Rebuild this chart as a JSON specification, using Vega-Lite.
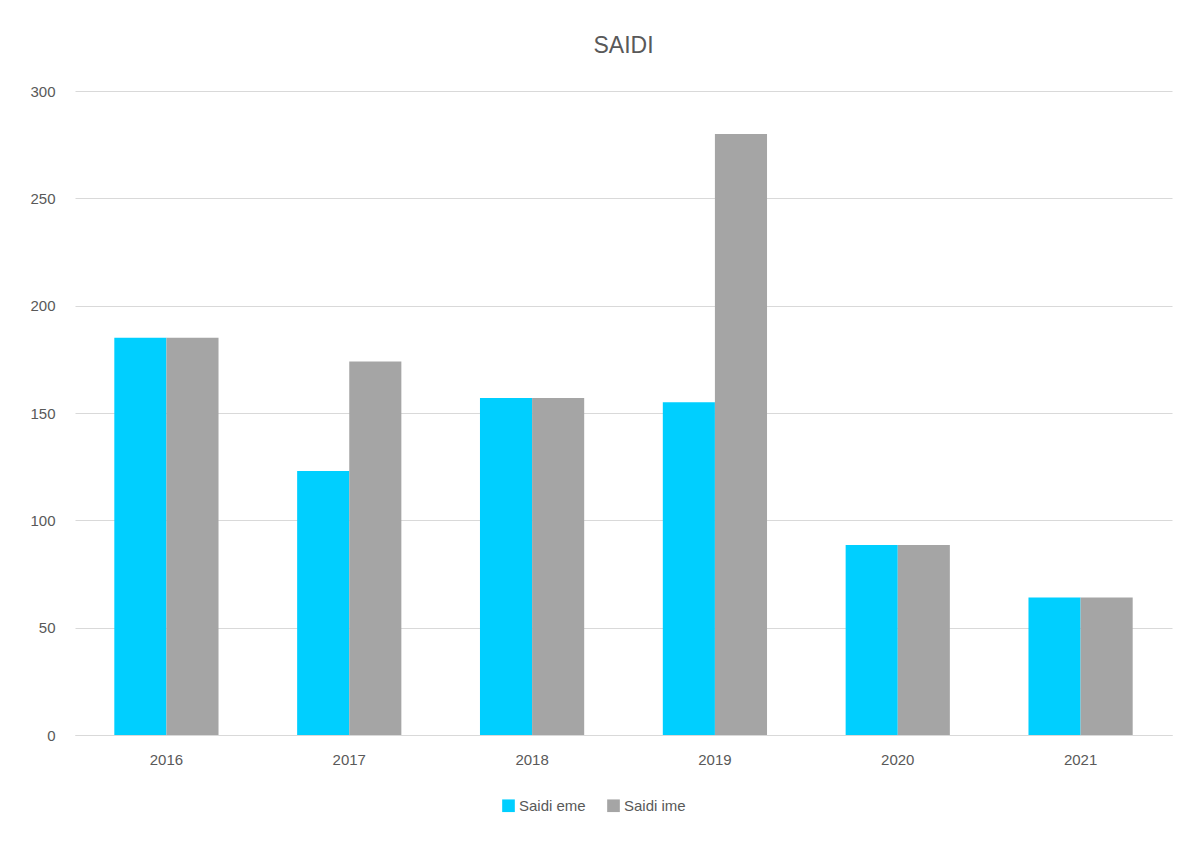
{
  "$schema": "https://vega.github.io/schema/vega-lite/v6.json",
  "width": 1097,
  "height": 644,
  "autosize": {"type": "none"},
  "padding": {"left": 75, "top": 91, "right": 21, "bottom": 107},
  "background": "white",
  "title": {
    "text": "SAIDI",
    "fontSize": 23,
    "font": "Liberation Sans",
    "fontWeight": "normal",
    "color": "#595959",
    "offset": 26,
    "anchor": "middle"
  },
  "data": {
    "values": [
      {"year": "2016", "series": "Saidi eme", "value": 185},
      {"year": "2016", "series": "Saidi ime", "value": 185},
      {"year": "2017", "series": "Saidi eme", "value": 123},
      {"year": "2017", "series": "Saidi ime", "value": 174},
      {"year": "2018", "series": "Saidi eme", "value": 157},
      {"year": "2018", "series": "Saidi ime", "value": 157},
      {"year": "2019", "series": "Saidi eme", "value": 155},
      {"year": "2019", "series": "Saidi ime", "value": 280},
      {"year": "2020", "series": "Saidi eme", "value": 88.5},
      {"year": "2020", "series": "Saidi ime", "value": 88.5},
      {"year": "2021", "series": "Saidi eme", "value": 64},
      {"year": "2021", "series": "Saidi ime", "value": 64}
    ]
  },
  "mark": {"type": "bar"},
  "encoding": {
    "x": {
      "field": "year",
      "type": "nominal",
      "scale": {"paddingInner": 0.43, "paddingOuter": 0.215},
      "axis": {
        "title": null,
        "labelAngle": 0,
        "labelFontSize": 15,
        "labelFont": "Liberation Sans",
        "labelColor": "#595959",
        "labelPadding": 17,
        "ticks": false,
        "domainColor": "#d9d9d9",
        "domainWidth": 1
      }
    },
    "xOffset": {"field": "series", "type": "nominal"},
    "y": {
      "field": "value",
      "type": "quantitative",
      "scale": {"domain": [0, 300]},
      "axis": {
        "title": null,
        "values": [0, 50, 100, 150, 200, 250, 300],
        "labelFontSize": 15,
        "labelFont": "Liberation Sans",
        "labelColor": "#595959",
        "labelPadding": 20,
        "ticks": false,
        "domain": false,
        "gridColor": "#d9d9d9",
        "gridWidth": 1
      }
    },
    "color": {
      "field": "series",
      "type": "nominal",
      "scale": {"domain": ["Saidi eme", "Saidi ime"], "range": ["#00CFFF", "#A5A5A5"]},
      "legend": {
        "title": null,
        "orient": "none",
        "legendX": 426,
        "legendY": 707,
        "direction": "horizontal",
        "symbolType": "square",
        "symbolSize": 160,
        "symbolStrokeWidth": 0,
        "labelFontSize": 15,
        "labelFont": "Liberation Sans",
        "labelColor": "#595959",
        "columnPadding": 20,
        "labelOffset": 3
      }
    }
  },
  "config": {
    "view": {"stroke": null}
  }
}
